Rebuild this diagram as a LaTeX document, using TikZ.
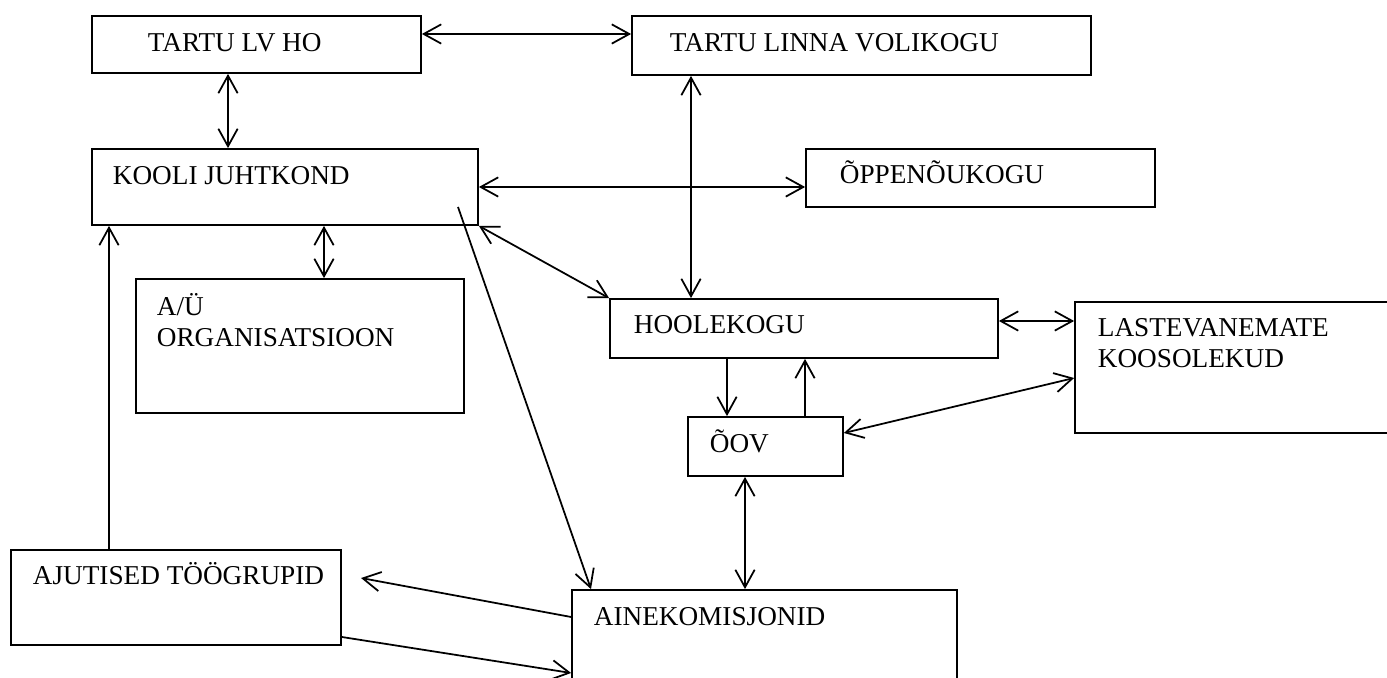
\documentclass[tikz,border=0pt]{standalone}
\usepackage{fontspec}
\setmainfont{Liberation Serif}
\usetikzlibrary{positioning,arrows.meta,fit,calc}

\begin{document}
\begin{tikzpicture}[
	x=0.02cm, y=-0.02cm,
	font=\fontsize{15.5}{18}\selectfont,
	line width=1pt,
	>={Straight Barb[length=10pt,width=11pt]},
	box/.style={
		draw,
		inner sep=0pt,
	},
	txt/.style={
		anchor=base west,
		inner sep=0pt,
		align=left,
	},
	arr/.style={->},
]

% Pildi piirid (alumine ja parem kast jäävad servast välja)
\useasboundingbox (0,0) rectangle (1387,678);
\clip (0,0) rectangle (1387,678);

% Kastid
\node[box, fit={(92,16) (421,73)}] (lvho) {};
\node[box, fit={(632,16) (1091,75)}] (volikogu) {};
\node[box, fit={(92,149) (478,225)}] (juhtkond) {};
\node[box, fit={(806,149) (1155,207)}] (oppenoukogu) {};
\node[box, fit={(136,279) (464,413)}] (auorg) {};
\node[box, fit={(610,299) (998,358)}] (hoolekogu) {};
\node[box, fit={(1075,302) (1420,433)}] (lastevanemad) {};
\node[box, fit={(688,417) (843,476)}] (oov) {};
\node[box, fit={(11,550) (341,645)}] (ajutised) {};
\node[box, fit={(572,590) (957,720)}] (aine) {};

% Kastide tekstid (mitmerealistel on baas viimasel real)
\node[txt] (lvhotext) at (147,52) {TARTU LV HO};
\node[txt] (volikogutext) at (669,52) {TARTU LINNA VOLIKOGU};
\node[txt] (juhtkondtext) at (112,185) {KOOLI JUHTKOND};
\node[txt] (oppenoukogutext) at (839,184) {ÕPPENÕUKOGU};
\node[txt] (auorgtext) at (156,347) {A/Ü\\ORGANISATSIOON};
\node[txt] (hoolekogutext) at (633,334) {HOOLEKOGU};
\node[txt] (lastevanemadtext) at (1097,368) {LASTEVANEMATE\\KOOSOLEKUD};
\node[txt] (oovtext) at (709,453) {ÕOV};
\node[txt] (ajutisedtext) at (32,585) {AJUTISED TÖÖGRUPID};
\node[txt] (ainetext) at (593,626) {AINEKOMISJONID};

% Vabad otsad
\coordinate (jkstart) at (458,207);
\coordinate (ajend) at (361,578);

% Ühendused
\draw[arr, <->] (lvho.east |- 0,34) -- (volikogu.west |- 0,34);
\draw[arr, <->] (lvho.south -| 228,0) -- (juhtkond.north -| 228,0);
\draw[arr, <->] (volikogu.south -| 691,0) -- (hoolekogu.north -| 691,0);
\draw[arr, <->] (juhtkond.east) -- (juhtkond.east -| oppenoukogu.west);
\draw[arr, <->] (juhtkond.south east) -- (hoolekogu.north west);
\draw[arr, <->] (juhtkond.south -| 324,0) -- (auorg.north -| 324,0);
\draw[arr] (ajutised.north -| 109,0) -- (juhtkond.south -| 109,0);
\draw[arr] (jkstart) -- (aine.north west -| 591,0);
\draw[arr, <->] (hoolekogu.east |- 0,321) -- (lastevanemad.west |- 0,321);
\draw[arr] (hoolekogu.south -| 727,0) -- (oov.north -| 727,0);
\draw[arr] (oov.north -| 805,0) -- (hoolekogu.south -| 805,0);
\draw[arr, <->] (lastevanemad.west |- 0,378) -- (oov.east |- 0,433);
\draw[arr, <->] (oov.south -| 745,0) -- (aine.north -| 745,0);
\draw[arr] (aine.west |- 0,617) -- (ajend);
\draw[arr] (ajutised.east |- 0,637) -- (aine.west |- 0,673);

\end{tikzpicture}
\end{document}
